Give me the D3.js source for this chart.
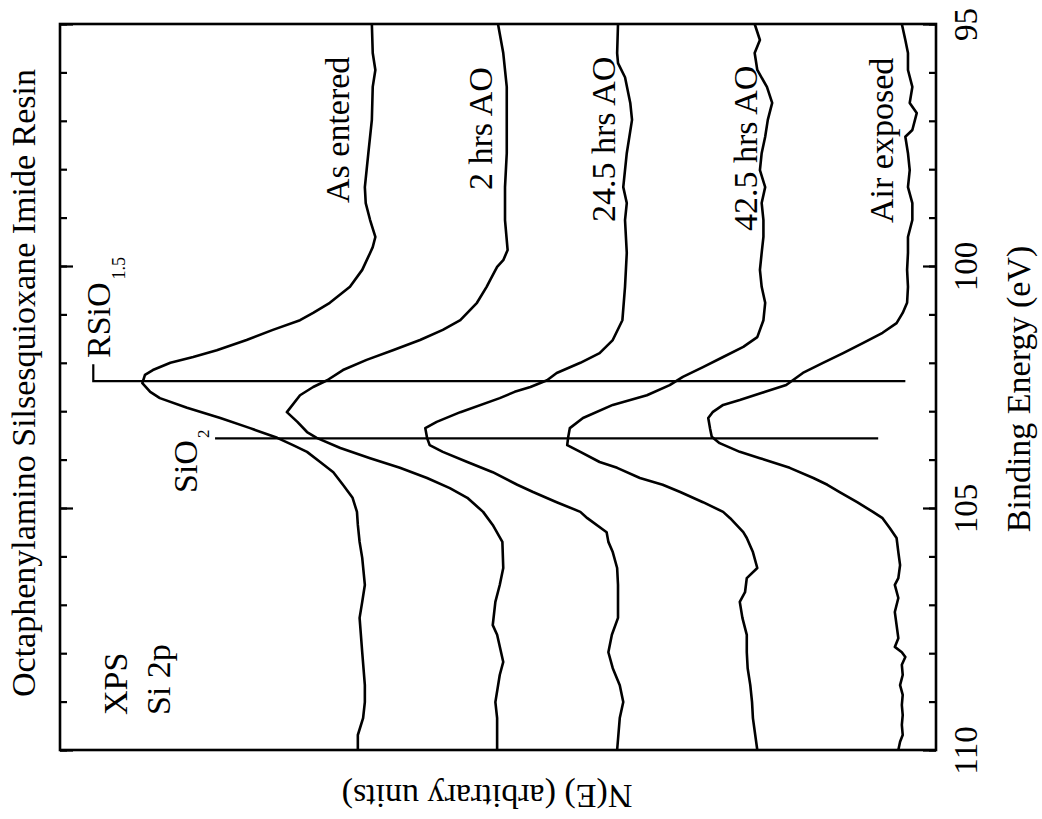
<!DOCTYPE html>
<html>
<head>
<meta charset="utf-8">
<script src="https://cdn.jsdelivr.net/npm/d3@7"></script>
<style>
  html, body { margin: 0; padding: 0; background: #fff; }
  svg { display: block; }
  text { font-family: "Liberation Serif", "Times New Roman", serif; fill: #000; }
</style>
</head>
<body>
<svg id="chart" width="1042" height="819"></svg>
<script>
// Si 2p XPS spectra: [binding energy (eV), N(E) (arbitrary units, stacked)]
const asEntered = [
  [95.00,64.4],[95.60,64.3],[95.95,64.0],[96.30,64.3],[96.98,64.4],[97.67,64.8],[98.02,65.0],
  [98.37,65.2],[98.70,65.1],[99.05,64.6],[99.40,64.0],[99.61,64.3],[99.73,64.6],[100.08,65.5],
  [100.43,66.9],[100.76,69.2],[100.97,71.1],[101.12,72.6],[101.32,75.7],[101.53,78.7],[101.74,82.1],
  [101.88,84.8],[102.00,87.4],[102.15,89.4],[102.25,90.3],[102.42,90.6],[102.60,89.7],[102.73,88.6],
  [102.93,85.5],[103.14,81.7],[103.35,78.3],[103.55,75.2],[103.70,73.4],[103.84,71.8],[104.05,70.3],
  [104.26,68.8],[104.52,67.7],[104.79,66.6],[105.08,66.1],[105.35,66.0],[105.70,65.8],[106.03,65.5],
  [106.59,65.2],[106.94,65.5],[107.27,65.8],[107.98,65.5],[108.66,65.2],[109.01,65.2],[109.34,65.4],
  [109.69,66.0],[110.00,66.0]
];
const ao2h = [
  [95.00,50.0],[95.60,49.4],[96.30,49.0],[96.98,49.0],[97.67,49.0],[98.37,49.2],[99.05,49.2],
  [99.67,48.9],[99.88,49.4],[100.02,50.1],[100.29,50.9],[100.43,51.3],[100.76,52.4],[101.12,54.3],
  [101.32,56.3],[101.53,58.9],[101.74,62.0],[101.94,65.0],[102.15,67.7],[102.36,69.5],[102.50,71.1],
  [102.67,72.6],[103.02,74.1],[103.22,72.9],[103.43,71.8],[103.55,70.7],[103.76,68.0],[103.97,64.6],
  [104.17,61.2],[104.38,58.1],[104.59,55.5],[104.79,53.5],[105.08,51.7],[105.35,50.6],[105.70,49.5],
  [106.24,49.4],[106.59,49.8],[106.94,50.3],[107.42,50.6],[107.62,50.1],[108.18,49.4],[108.45,49.8],
  [109.01,50.3],[109.34,50.1],[110.00,50.1]
];
const ao24h = [
  [95.00,36.3],[95.60,36.4],[95.81,36.3],[96.10,35.5],[96.63,34.9],[96.98,34.7],[97.67,35.3],
  [98.37,35.7],[98.70,35.3],[99.05,35.5],[99.73,35.3],[100.43,35.5],[101.12,35.8],[101.53,36.9],
  [101.80,38.4],[102.00,40.6],[102.21,43.3],[102.36,44.4],[102.50,46.3],[102.60,48.1],[102.73,49.8],
  [103.02,54.3],[103.22,57.0],[103.35,58.3],[103.55,58.1],[103.70,57.8],[103.84,56.3],[104.05,53.5],
  [104.26,50.6],[104.52,47.8],[104.67,46.0],[104.88,43.3],[105.08,40.6],[105.21,39.8],[105.50,37.6],
  [105.70,37.4],[105.91,36.9],[106.24,36.4],[106.59,36.3],[107.27,36.3],[107.62,37.0],[107.98,37.4],
  [108.31,36.9],[108.66,36.1],[109.01,35.7],[109.34,36.1],[110.00,36.4]
];
const ao42h = [
  [95.00,20.7],[95.33,20.1],[95.60,20.7],[95.95,20.4],[96.30,19.3],[96.63,18.7],[96.98,19.2],
  [97.33,19.5],[97.67,19.9],[98.02,20.1],[98.37,19.5],[98.70,19.9],[99.05,19.7],[99.40,19.7],
  [99.73,19.9],[100.08,20.1],[100.43,19.9],[100.76,19.5],[101.12,19.7],[101.47,20.4],[101.67,22.0],
  [101.88,24.3],[102.09,26.6],[102.29,28.9],[102.46,30.4],[102.67,33.0],[102.87,36.9],[103.14,40.3],
  [103.35,41.8],[103.55,42.0],[103.70,42.1],[103.84,40.6],[104.05,38.4],[104.17,36.4],[104.38,33.8],
  [104.52,31.2],[104.67,29.2],[104.88,26.6],[105.08,24.3],[105.21,23.5],[105.50,22.0],[105.62,21.6],
  [105.91,20.9],[106.24,20.4],[106.45,21.6],[106.74,21.8],[106.94,22.4],[107.27,22.1],[107.62,21.6],
  [107.98,21.6],[108.31,21.5],[108.66,21.2],[109.01,21.0],[109.34,20.9],[110.00,20.4]
];
const airExposed = [
  [95.00,3.9],[95.33,3.5],[95.60,3.2],[95.95,3.2],[96.30,2.7],[96.63,3.0],[96.84,2.2],[97.19,2.7],
  [97.33,3.5],[97.67,3.2],[98.02,3.0],[98.37,3.2],[98.70,2.7],[99.05,2.7],[99.40,3.2],[99.73,3.2],
  [100.08,3.3],[100.43,3.2],[100.76,3.3],[100.97,3.8],[101.18,4.5],[101.38,6.1],[101.59,8.3],
  [101.80,10.6],[102.00,12.9],[102.21,15.2],[102.46,17.1],[102.60,19.5],[102.77,22.4],[102.87,24.3],
  [103.02,25.5],[103.14,26.0],[103.35,25.8],[103.53,25.6],[103.66,24.7],[103.84,22.4],[103.97,20.1],
  [104.17,16.7],[104.38,14.0],[104.52,12.4],[104.67,11.0],[104.88,9.0],[105.08,7.2],[105.21,6.1],
  [105.41,5.3],[105.62,4.5],[105.91,4.3],[106.18,4.1],[106.45,4.3],[106.59,4.7],[106.86,4.3],
  [107.15,4.7],[107.42,4.5],[107.69,4.3],[107.87,4.7],[107.98,3.9],[108.08,3.5],[108.24,3.9],
  [108.45,3.8],[108.66,4.1],[108.86,3.8],[109.07,3.9],[109.28,3.8],[109.48,3.9],[109.69,3.8],
  [109.83,4.1],[110.00,4.3]
];
const spectra = [asEntered, ao2h, ao24h, ao42h, airExposed];
const spectrumLabels = ["As entered", "2 hrs AO", "24.5 hrs AO", "42.5 hrs AO", "Air exposed"];

// Reference binding energies for the two silicon environments
const rsioEnergy = 102.38;
const sio2Energy = 103.56;
const rsioSpan = [96.2, 3.5];   // N(E) extent of the marker line
const sio2Span = [82.3, 6.6];

const majorTicks = [95, 100, 105, 110];
const minorTicks = d3.range(95, 111, 1);

const titleText = "Octaphenylamino Silsesquioxane Imide Resin";
const energyTitle = "Binding Energy (eV)";
const countsTitle = "N(E) (arbitrary units)";

const svg = d3.select("#chart");

// Plot is drawn turned a quarter turn: energy runs down the page, N(E) grows leftward
const y = d3.scaleLinear().domain([95, 110]).range([24, 750]);
const x = d3.scaleLinear().domain([0, 100]).range([936, 60]);

const font = 34;

// Frame
svg.append("rect")
  .attr("x", x(100)).attr("y", y(95))
  .attr("width", x(0) - x(100)).attr("height", y(110) - y(95))
  .attr("fill", "none").attr("stroke", "#000").attr("stroke-width", 2.6);

function styleAxis(g) {
  g.select(".domain").remove();
  g.selectAll(".tick line").attr("stroke", "#000").attr("stroke-width", 2.2);
}

// Energy axis (right edge) with inward ticks
svg.append("g").attr("transform", `translate(${x(0)},0)`)
  .call(d3.axisRight(y).tickValues(minorTicks).tickSize(-7).tickFormat(""))
  .call(styleAxis);
const rightMajor = svg.append("g").attr("transform", `translate(${x(0)},0)`)
  .call(d3.axisRight(y).tickValues(majorTicks).tickSize(-13).tickFormat(d3.format("d")))
  .call(styleAxis);
rightMajor.selectAll(".tick text")
  .attr("x", null).attr("dy", null)
  .attr("transform", "translate(41,0) rotate(-90)")
  .attr("text-anchor", "middle")
  .style("font-family", '"Liberation Serif","Times New Roman",serif')
  .style("font-size", "33px").attr("fill", "#000");

// Mirror ticks on the left edge
svg.append("g").attr("transform", `translate(${x(100)},0)`)
  .call(d3.axisLeft(y).tickValues(minorTicks).tickSize(-7).tickFormat(""))
  .call(styleAxis);
svg.append("g").attr("transform", `translate(${x(100)},0)`)
  .call(d3.axisLeft(y).tickValues(majorTicks).tickSize(-13).tickFormat(""))
  .call(styleAxis);

// Spectra
const line = d3.line().x(d => x(d[1])).y(d => y(d[0]));
svg.append("g").selectAll("path").data(spectra).join("path")
  .attr("d", line)
  .attr("fill", "none").attr("stroke", "#000")
  .attr("stroke-width", 2.6).attr("stroke-linejoin", "round");

// Peak position markers
svg.append("path")
  .attr("d", `M${x(rsioSpan[0])},${y(rsioEnergy - 0.35)}V${y(rsioEnergy)}H${x(rsioSpan[1])}`)
  .attr("fill", "none").attr("stroke", "#000").attr("stroke-width", 2.2);
svg.append("path")
  .attr("d", `M${x(sio2Span[0])},${y(sio2Energy)}H${x(sio2Span[1])}`)
  .attr("fill", "none").attr("stroke", "#000").attr("stroke-width", 2.2);

function vtext(px, py, anchor) {
  return svg.append("text")
    .attr("transform", `translate(${px},${py}) rotate(-90)`)
    .attr("text-anchor", anchor)
    .style("font-size", font + "px");
}

const rs = vtext(110, 358, "start");
rs.append("tspan").text("RSiO");
rs.append("tspan").attr("dy", 15).attr("dx", 3).style("font-size", "18px").text("1.5");

const si = vtext(197, 493, "start");
si.append("tspan").text("SiO");
si.append("tspan").attr("dy", 12).attr("dx", 2).style("font-size", "17px").text("2");

// Spectrum labels
const labelPos = [[349, 203], [492, 190], [615, 222], [757, 231], [893, 223]];
spectrumLabels.forEach((t, i) => vtext(labelPos[i][0], labelPos[i][1], "start").text(t));

vtext(127, 715, "start").text("XPS");
vtext(170, 715, "start").text("Si 2p");

// Titles
vtext(35, 383, "middle").text(titleText);
vtext(1030, 389, "middle").text(energyTitle);
svg.append("text")
  .attr("transform", `translate(487,785) rotate(180)`)
  .attr("text-anchor", "middle")
  .style("font-size", font + "px")
  .text(countsTitle);
</script>
</body>
</html>
